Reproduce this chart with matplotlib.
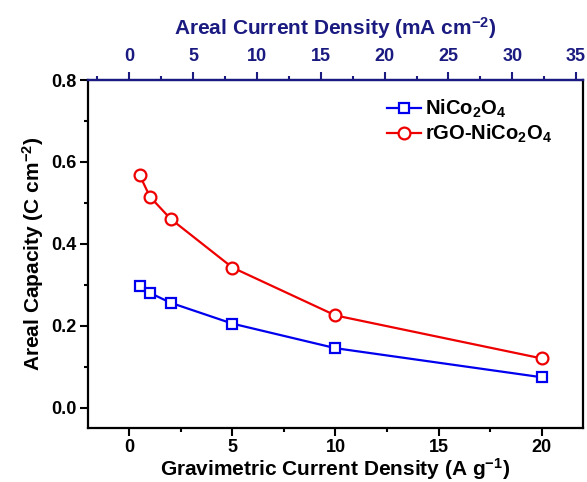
import matplotlib
matplotlib.use("Agg")
import matplotlib.pyplot as plt
from matplotlib.ticker import MultipleLocator

plt.rcParams['font.family'] = ['Liberation Sans', 'DejaVu Sans']
plt.rcParams['font.weight'] = 'bold'
plt.rcParams['mathtext.fontset'] = 'custom'
plt.rcParams['mathtext.rm'] = 'Liberation Sans:bold'
plt.rcParams['mathtext.it'] = 'Liberation Sans:bold'
plt.rcParams['mathtext.bf'] = 'Liberation Sans:bold'
plt.rcParams['mathtext.default'] = 'rm'

current_density = [0.5, 1, 2, 5, 10, 20]
nico2o4 = [0.298, 0.280, 0.256, 0.205, 0.145, 0.074]
rgo_nico2o4 = [0.568, 0.515, 0.461, 0.342, 0.225, 0.120]
series_labels = ['NiCo$_2$O$_4$', 'rGO-NiCo$_2$O$_4$']
mass_loading = 1.615  # mg cm^-2, areal = gravimetric * loading

navy = '#1a1a80'

fig = plt.figure(figsize=(5.87, 4.82), dpi=100)
ax = fig.add_axes([0.150, 0.112, 0.843, 0.722])

ax.plot(current_density, nico2o4, '-s', color='#0000ee', lw=1.6, ms=7,
        mfc='white', mec='#0000ee', mew=1.6, label=series_labels[0])
ax.plot(current_density, rgo_nico2o4, '-o', color='#ee0000', lw=1.6, ms=8.5,
        mfc='white', mec='#ee0000', mew=1.6, label=series_labels[1])

ax.set_xlim(-2, 22)
ax.set_ylim(-0.05, 0.8)
ax.xaxis.set_major_locator(MultipleLocator(5))
ax.xaxis.set_minor_locator(MultipleLocator(2.5))
ax.yaxis.set_major_locator(MultipleLocator(0.2))
ax.yaxis.set_minor_locator(MultipleLocator(0.1))
ax.yaxis.set_major_formatter(matplotlib.ticker.FormatStrFormatter('%.1f'))
ax.tick_params(which='major', direction='out', length=6, width=1.5, labelsize=13, pad=2)
ax.tick_params(which='minor', direction='out', length=3, width=1.5)
ax.tick_params(top=False, right=False, which='both')
for s in ['left', 'bottom', 'right']:
    ax.spines[s].set_linewidth(1.6)
ax.spines['top'].set_color(navy)
ax.spines['top'].set_linewidth(1.6)

ax.set_xlabel('Gravimetric Current Density (A g$^{-1}$)', fontsize=15, fontweight='bold', labelpad=0)
ax.set_ylabel('Areal Capacity (C cm$^{-2}$)', fontsize=15, fontweight='bold', labelpad=4)

sec = ax.secondary_xaxis('top', functions=(lambda x: x * mass_loading, lambda x: x / mass_loading))
sec.xaxis.set_major_locator(MultipleLocator(5))
sec.xaxis.set_minor_locator(MultipleLocator(2.5))
sec.tick_params(which='major', direction='out', length=6, width=1.5, labelsize=13, colors=navy, pad=5)
sec.tick_params(which='minor', direction='out', length=3, width=1.5, colors=navy)
sec.spines['top'].set_color(navy)
sec.spines['top'].set_linewidth(1.6)
sec.set_xlabel('Areal Current Density (mA cm$^{-2}$)', fontsize=15, fontweight='bold', color=navy, labelpad=9)

ax.legend(loc='upper right', bbox_to_anchor=(0.975, 1.0), frameon=False, fontsize=14.5,
          handlelength=1.7, handletextpad=0.2, labelspacing=0.12)

fig.savefig('out.png', dpi=100)
